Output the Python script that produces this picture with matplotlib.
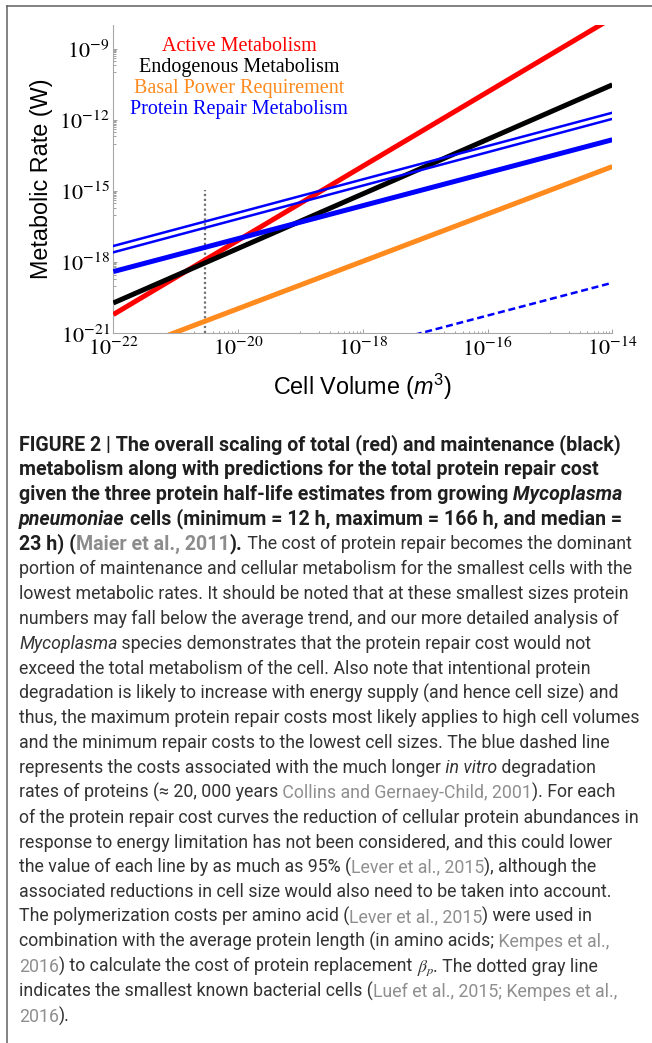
import matplotlib
matplotlib.use('Agg')
import matplotlib.pyplot as plt
from matplotlib.lines import Line2D
from matplotlib.ticker import FixedLocator, FixedFormatter, NullFormatter

plt.rcParams['mathtext.fontset'] = 'stix'
plt.rcParams['mathtext.rm'] = 'Liberation Sans'
plt.rcParams['mathtext.it'] = 'Liberation Sans:italic'

# end points of each straight (log-log) line
vol = [1e-22, 1e-14]                 # cell volume (m^3)
active = [6.2e-21, 2.0e-8]           # red
endogenous = [1.9e-20, 3.0e-11]      # black
basal = [1.1e-22, 1.07e-14]          # orange
repair_12h = [4.8e-18, 2.0e-12]      # thin blue (min half-life)
repair_23h = [2.6e-18, 1.1e-12]      # thin blue (median)
repair_166h = [4.0e-19, 1.45e-13]    # thick blue (max half-life)
repair_invitro = [4.0e-25, 1.35e-19] # dashed blue
smallest_cell = 3e-21                # dotted gray marker
smallest_top = 1.1e-15

legend_labels = ['Active Metabolism', 'Endogenous Metabolism',
                 'Basal Power Requirement', 'Protein Repair Metabolism']
legend_colors = ['#ff0000', '#000000', '#ff8a1e', '#0000ff']

xticks = [1e-22, 1e-20, 1e-18, 1e-16, 1e-14]
xtick_labels = [r'$10^{-22}$', r'$10^{-20}$', r'$10^{-18}$', r'$10^{-16}$', r'$10^{-14}$']
yticks = [1e-21, 1e-18, 1e-15, 1e-12, 1e-9]
ytick_labels = [r'$10^{-21}$', r'$10^{-18}$', r'$10^{-15}$', r'$10^{-12}$', r'$10^{-9}$']

caption = [
    [('FIGURE 2 | The overall scaling of total (red) and maintenance (black)', 'b')],
    [('metabolism along with predictions for the total protein repair cost', 'b')],
    [('given the three protein half-life estimates from growing', 'b'), (' Mycoplasma', 'bi')],
    [('pneumoniae', 'bi'), (' cells (minimum = 12 h, maximum = 166 h, and median =', 'b')],
    [('23 h) (', 'b'), ('Maier et al., 2011', 'bref'), (').', 'b'),
     (' The cost of protein repair becomes the dominant', 'r')],
    [('portion of maintenance and cellular metabolism for the smallest cells with the', 'r')],
    [('lowest metabolic rates. It should be noted that at these smallest sizes protein', 'r')],
    [('numbers may fall below the average trend, and our more detailed analysis of', 'r')],
    [('Mycoplasma', 'i'), (' species demonstrates that the protein repair cost would not', 'r')],
    [('exceed the total metabolism of the cell. Also note that intentional protein', 'r')],
    [('degradation is likely to increase with energy supply (and hence cell size) and', 'r')],
    [('thus, the maximum protein repair costs most likely applies to high cell volumes', 'r')],
    [('and the minimum repair costs to the lowest cell sizes. The blue dashed line', 'r')],
    [('represents the costs associated with the much longer', 'r'), (' in vitro', 'i'),
     (' degradation', 'r')],
    [('rates of proteins (\u2248 20, 000 years', 'r'), (' Collins and Gernaey-Child, 2001', 'ref'),
     ('). For each', 'r')],
    [('of the protein repair cost curves the reduction of cellular protein abundances in', 'r')],
    [('response to energy limitation has not been considered, and this could lower', 'r')],
    [('the value of each line by as much as 95% (', 'r'), ('Lever et al., 2015', 'ref'),
     ('), although the', 'r')],
    [('associated reductions in cell size would also need to be taken into account.', 'r')],
    [('The polymerization costs per amino acid (', 'r'), ('Lever et al., 2015', 'ref'),
     (') were used in', 'r')],
    [('combination with the average protein length (in amino acids;', 'r'), (' Kempes et al.,', 'ref')],
    [('2016', 'ref'), (') to calculate the cost of protein replacement ', 'r'), (r'$\beta_p$', 'r'),
     ('. The dotted gray line', 'r')],
    [('indicates the smallest known bacterial cells (', 'r'),
     ('Luef et al., 2015; Kempes et al.,', 'ref')],
    [('2016', 'ref'), (').', 'r')],
]

W, H = 652, 1043
fig = plt.figure(figsize=(W / 100, H / 100), dpi=100)

# ---- chart ----
ax = fig.add_axes([113.3 / W, 1 - 333.3 / H, 499 / W, 308.3 / H])
ax.set_xscale('log')
ax.set_yscale('log')

ax.plot(vol, active, color=legend_colors[0], lw=3.6, solid_capstyle='butt', zorder=3)
ax.plot(vol, endogenous, color='black', lw=3.6, solid_capstyle='butt', zorder=3)
ax.plot(vol, basal, color=legend_colors[2], lw=3.6, solid_capstyle='butt', zorder=3)
ax.plot(vol, repair_166h, color='#0000ff', lw=3.6, solid_capstyle='butt', zorder=3)
ax.plot(vol, repair_12h, color='#0000ff', lw=1.8, zorder=3)
ax.plot(vol, repair_23h, color='#0000ff', lw=1.8, zorder=3)
ax.plot(vol, repair_invitro, color='#0000ff', lw=1.8, dashes=(2.8, 1.5), zorder=3)
ax.plot([smallest_cell, smallest_cell], [1e-21, smallest_top], color='#707070',
        lw=1.6, linestyle=(0, (1, 1.2)), zorder=2)

ax.set_xlim(1e-22, 1e-14)
ax.set_ylim(1e-21, 1e-8)

for sp in ['top', 'right']:
    ax.spines[sp].set_visible(False)
for sp in ['left', 'bottom']:
    ax.spines[sp].set_color('#a8a8a8')
    ax.spines[sp].set_linewidth(0.8)

ax.xaxis.set_major_locator(FixedLocator(xticks))
ax.xaxis.set_major_formatter(FixedFormatter(xtick_labels))
ax.yaxis.set_major_locator(FixedLocator(yticks))
ax.yaxis.set_major_formatter(FixedFormatter(ytick_labels))
# Mathematica style minor ticks: one decade below each labelled tick
ax.xaxis.set_minor_locator(FixedLocator([k * t / 10 for t in xticks[1:] for k in range(1, 10)]))
ax.yaxis.set_minor_locator(FixedLocator([k * t / 10 for t in yticks[1:] for k in range(1, 10)]))
ax.xaxis.set_minor_formatter(NullFormatter())
ax.yaxis.set_minor_formatter(NullFormatter())
ax.tick_params(which='both', direction='in', color='#909090', width=0.6)
ax.tick_params(which='major', length=3, labelsize=16, pad=2.5)
ax.tick_params(which='minor', length=1.8)

ax.set_xlabel('Cell Volume ($m^3$)', fontsize=16.8, family='Liberation Sans',
              math_fontfamily='custom', va='center')
ax.xaxis.set_label_coords(0.5, -0.174)
ax.set_ylabel('Metabolic Rate (W)', fontsize=16.8, family='Liberation Sans', va='center')
ax.yaxis.set_label_coords(-0.143, 0.5)

for lab, col, yy in zip(legend_labels, legend_colors, [0.9157, 0.8476, 0.7795, 0.7129]):
    ax.text(0.252, yy, lab, color=col, ha='center', va='baseline', transform=ax.transAxes,
            family='Liberation Serif', fontsize=14.5)

# frame lines (left and top)
fig.add_artist(Line2D([7 / W, 7 / W], [0, 1 - 6 / H], color='#606060', lw=1.1))
fig.add_artist(Line2D([7 / W, 1], [1 - 6 / H, 1 - 6 / H], color='#606060', lw=1.1))

# ---- caption ----
cap_family = ['Roboto', 'DejaVu Sans']
styles = {
    'b': dict(weight='bold', color='#1f1f1f'),
    'bi': dict(weight='bold', style='italic', color='#1f1f1f'),
    'bref': dict(weight='bold', color='#8c8c8c'),
    'r': dict(weight='normal', color='#333333'),
    'i': dict(weight='normal', style='italic', color='#333333'),
    'ref': dict(weight='normal', color='#8f8f8f'),
}
renderer = fig.canvas.get_renderer()


def text_width(s, size, st):
    # bracket with bars so leading/trailing spaces are counted
    t1 = fig.text(0, 0, '|' + s + '|', size=size, family=cap_family, **styles[st])
    t2 = fig.text(0, 0, '||', size=size, family=cap_family, **styles[st])
    w = t1.get_window_extent(renderer).width - t2.get_window_extent(renderer).width
    t1.remove()
    t2.remove()
    return w


# regular and bold sizes fitted to the reference line lengths
fs = 10 * 615 / text_width(caption[5][0][0], 10, 'r')
fs_bold = 10 * 605 / text_width(caption[0][0][0], 10, 'b')
sizes = {'b': fs_bold, 'bi': fs_bold, 'bref': fs_bold, 'r': fs, 'i': fs, 'ref': fs}

for i, line in enumerate(caption):
    x = 19
    y = 450 + 24.85 * i
    for s, st in line:
        fig.text(x / W, 1 - y / H, s, size=sizes[st], family=cap_family, va='baseline',
                 **styles[st])
        x += text_width(s, sizes[st], st)

fig.savefig('out.png', dpi=100)
print('Saved out.png')
